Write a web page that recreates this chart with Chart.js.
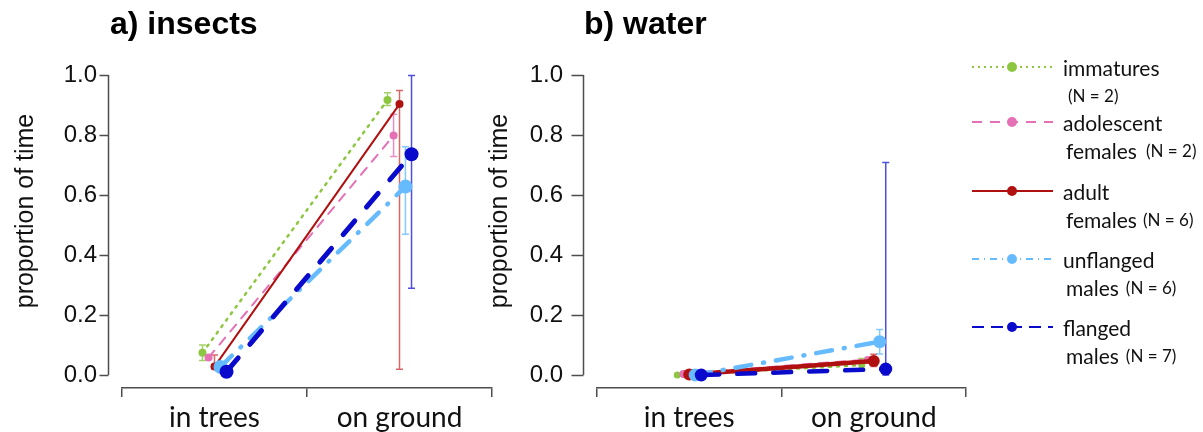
<!DOCTYPE html>
<html>
<head>
<meta charset="utf-8">
<script src="https://cdn.jsdelivr.net/npm/chart.js@4.4.1/dist/chart.umd.min.js"></script>
<style>
  body { margin: 0; width: 1203px; height: 432px; background: #fff; position: relative; overflow: hidden; }
  canvas { position: absolute; top: 0; }
  #cA { left: 0; }
  #cB { left: 480px; }
  #legend { position: absolute; left: 960px; top: 0; }
</style>
</head>
<body>
<canvas id="cA" width="505" height="432"></canvas>
<canvas id="cB" width="490" height="432"></canvas>
<svg id="legend" width="243" height="432"></svg>
<script>
// ---- data ----
const categories = ["in trees", "on ground"];
const seriesNames = ["immatures", "adolescent females", "adult females", "unflanged males", "flanged males"];
const sampleSizes = [2, 2, 6, 6, 7];
const yTicks = [0, 0.2, 0.4, 0.6, 0.8, 1.0];

// a) insects: one row per series, [in trees, on ground]
const insectsMeans = [
    [0.074, 0.917],
    [0.058, 0.798],
    [0.028, 0.903],
    [0.027, 0.628],
    [0.011, 0.736]
];
const insectsLower = [
    [0.048, 0.898],
    [null, 0.728],
    [0.020, 0.019],
    [null, 0.469],
    [null, 0.289]
];
const insectsUpper = [
    [0.100, 0.941],
    [null, 0.869],
    [0.067, 0.948],
    [null, 0.761],
    [null, 0.998]
];

// b) water
const waterMeans = [
    [0.000, 0.033],
    [0.003, 0.050],
    [0.002, 0.047],
    [0.000, 0.111],
    [0.000, 0.020]
];
const waterLower = [
    [null, 0.014],
    [null, null],
    [null, 0.028],
    [null, 0.070],
    [null, 0.000]
];
const waterUpper = [
    [null, 0.055],
    [null, null],
    [null, 0.069],
    [null, 0.152],
    [null, 0.708]
];

// ---- styles ----
const colors = ["#8dc641", "#e570b5", "#b01010", "#66bbff", "#0a0acc"];
const errColors = ["rgba(141,198,65,0.8)", "rgba(229,112,181,0.8)", "rgba(200,40,40,0.7)",
                   "rgba(102,187,255,0.8)", "rgba(20,20,210,0.75)"];
const dashes = [[2, 6], [9, 8], [], [16, 12, 1, 12], [18, 18]];
const legendDashes = [[2, 4], [10, 8], [], [7, 5, 1, 5], [12, 7]];
const dodge = [-0.065, -0.032, 0, 0.032, 0.065];
const axisColor = "#4d4d4d";
const yMin = -13 / 300;

const panels = [
    {
        canvas: "cA", title: "a) insects", titleX: 110,
        means: insectsMeans, lower: insectsLower, upper: insectsUpper,
        yAxisWidth: 122, padRight: 13, axisGap: 14, tickLen: 9, labelPad: 25, yLabelX: 26,
        lineWidths: [2.5, 2, 2, 4.5, 5], radii: [4, 4, 4, 7, 7]
    },
    {
        canvas: "cB", title: "b) water", titleX: 104,
        means: waterMeans, lower: waterLower, upper: waterUpper,
        yAxisWidth: 117, padRight: 4, axisGap: 14, tickLen: 12, labelPad: 34, yLabelX: 20,
        lineWidths: [2.5, 3, 4.5, 4.5, 4.5], radii: [3.5, 4, 6, 6.5, 6.5]
    }
];

/* ---------------------------
   Error bars, R-style y axis, titles
---------------------------- */
function decorPlugin(p) {
    return {
        id: "decor",
        beforeDatasetsDraw(chart) {
            const { ctx, scales: { x, y } } = chart;
            ctx.save();
            ctx.lineWidth = 1.5;
            p.lower.forEach((row, i) => {
                row.forEach((lo, j) => {
                    const hi = p.upper[i][j];
                    if (lo == null || hi == null) return;
                    const px = x.getPixelForValue(j + dodge[i]);
                    const y1 = y.getPixelForValue(lo);
                    const y2 = y.getPixelForValue(hi);
                    ctx.strokeStyle = errColors[i];
                    ctx.beginPath();
                    ctx.moveTo(px, y1); ctx.lineTo(px, y2);
                    ctx.moveTo(px - 3.5, y1); ctx.lineTo(px + 3.5, y1);
                    ctx.moveTo(px - 3.5, y2); ctx.lineTo(px + 3.5, y2);
                    ctx.stroke();
                });
            });
            ctx.restore();
        },
        afterDraw(chart) {
            const { ctx, scales: { x, y } } = chart;
            const ax = Math.round(x.left - p.axisGap) + 0.5;
            ctx.save();
            ctx.strokeStyle = axisColor;
            ctx.lineWidth = 1.5;
            ctx.beginPath();
            ctx.moveTo(ax, y.getPixelForValue(0));
            ctx.lineTo(ax, y.getPixelForValue(1));
            yTicks.forEach(v => {
                const py = Math.round(y.getPixelForValue(v)) + 0.5;
                ctx.moveTo(ax - p.tickLen, py);
                ctx.lineTo(ax, py);
            });
            ctx.stroke();

            ctx.fillStyle = "#111";
            ctx.font = "25px 'Liberation Sans', Arial, sans-serif";
            ctx.textAlign = "center";
            ctx.textBaseline = "middle";
            ctx.translate(p.yLabelX, 211);
            ctx.rotate(-Math.PI / 2);
            ctx.fillText("proportion of time", 0, 0);
            ctx.restore();

            ctx.save();
            ctx.fillStyle = "#000";
            ctx.font = "bold 32px 'Liberation Sans', Arial, sans-serif";
            ctx.textAlign = "left";
            ctx.textBaseline = "alphabetic";
            ctx.fillText(p.title, p.titleX, 34);
            ctx.restore();
        }
    };
}

function makePanel(p) {
    const datasets = seriesNames.map((name, i) => ({
        label: name,
        data: p.means[i].map((v, j) => ({ x: j + dodge[i], y: v })),
        borderColor: colors[i],
        backgroundColor: colors[i],
        pointBackgroundColor: colors[i],
        borderWidth: p.lineWidths[i],
        borderDash: dashes[i],
        borderCapStyle: "round",
        pointRadius: p.radii[i],
        pointBorderWidth: 0,
        pointHoverRadius: p.radii[i],
        tension: 0,
        fill: false,
        clip: false,
        order: seriesNames.length - i
    }));

    new Chart(document.getElementById(p.canvas), {
        type: "line",
        data: { datasets },
        options: {
            responsive: false,
            animation: false,
            events: [],
            layout: {
                autoPadding: false,
                padding: { top: 75, right: p.padRight, bottom: 0, left: 0 }
            },
            plugins: { legend: { display: false }, tooltip: { enabled: false } },
            scales: {
                x: {
                    type: "linear",
                    min: -0.5,
                    max: 1.5,
                    afterBuildTicks: s => { s.ticks = [-0.5, 0, 0.5, 1, 1.5].map(v => ({ value: v })); },
                    afterFit: s => { s.height = 44; },
                    ticks: {
                        autoSkip: false,
                        maxRotation: 0,
                        padding: 0,
                        color: "#111",
                        font: { family: "Lato", size: 28, lineHeight: 1.5 },
                        callback: v => Number.isInteger(v) ? categories[v] : ""
                    },
                    grid: {
                        drawOnChartArea: false,
                        tickLength: 9,
                        lineWidth: 1.5,
                        color: c => (c.tick && Number.isInteger(c.tick.value)) ? "rgba(0,0,0,0)" : axisColor
                    },
                    border: { display: true, color: axisColor, width: 1.5 }
                },
                y: {
                    min: yMin,
                    max: 1.0,
                    afterBuildTicks: s => { s.ticks = yTicks.map(v => ({ value: v })); },
                    afterFit: s => { s.width = p.yAxisWidth; },
                    ticks: {
                        padding: 0,
                        color: "#111",
                        font: { family: "Liberation Sans", size: 24 },
                        callback: v => v.toFixed(1)
                    },
                    // invisible tick marks only push the labels away from the plot
                    grid: {
                        drawOnChartArea: false,
                        drawTicks: true,
                        tickLength: p.labelPad,
                        color: "rgba(0,0,0,0)"
                    },
                    border: { display: false }
                }
            }
        },
        plugins: [decorPlugin(p)]
    });
}

panels.forEach(makePanel);

/* ---------------------------
   Legend (svg)
---------------------------- */
const legendFirst = ["immatures", "adolescent", "adult", "unflanged", "flanged"];
const legendSecond = ["", "females", "females", "males", "males"];
const legendRowY = [67, 122, 191, 259, 327];
const legendGap = [0, 9, 6, 7, 7];

const svg = document.getElementById("legend");
const NS = "http://www.w3.org/2000/svg";
function el(tag, attrs, text) {
    const e = document.createElementNS(NS, tag);
    Object.entries(attrs).forEach(([k, v]) => e.setAttribute(k, v));
    if (text !== undefined) e.textContent = text;
    svg.appendChild(e);
    return e;
}
seriesNames.forEach((name, i) => {
    const yy = legendRowY[i];
    el("line", {
        x1: 12, y1: yy, x2: 93, y2: yy, stroke: colors[i], "stroke-width": 2,
        "stroke-dasharray": legendDashes[i].length ? legendDashes[i].join(" ") : "none"
    });
    el("circle", { cx: 52, cy: yy, r: 5, fill: colors[i] });
    el("text", {
        x: 103, y: yy, "dominant-baseline": "central", "font-family": "Lato",
        "font-size": 21, fill: "#111"
    }, legendFirst[i]);
    const t = el("text", {
        x: 106, y: yy + 28, "dominant-baseline": "central", "font-family": "Lato", fill: "#111"
    });
    const nText = "(N = " + sampleSizes[i] + ")";
    if (legendSecond[i]) {
        const a = document.createElementNS(NS, "tspan");
        a.setAttribute("font-size", 21);
        a.textContent = legendSecond[i];
        t.appendChild(a);
    }
    const b = document.createElementNS(NS, "tspan");
    b.setAttribute("font-size", 17);
    if (legendSecond[i]) b.setAttribute("dx", legendGap[i]);
    else b.setAttribute("x", 108);
    b.textContent = nText;
    t.appendChild(b);
});
</script>
</body>
</html>
